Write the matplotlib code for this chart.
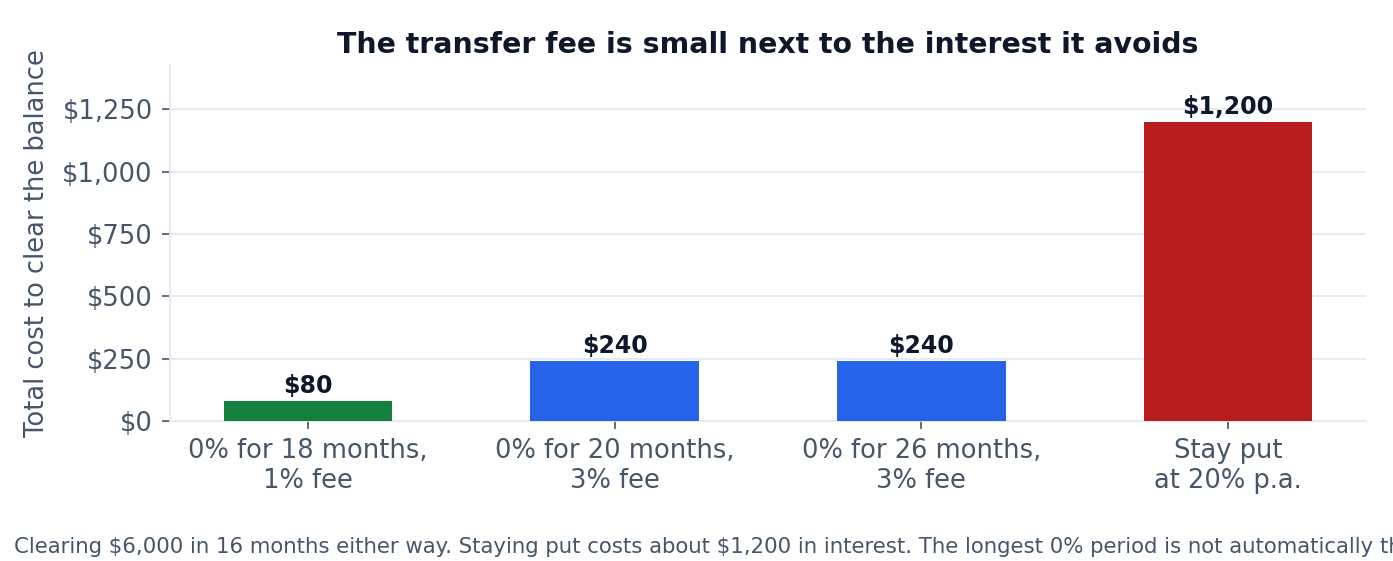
import matplotlib
matplotlib.use("Agg")
import matplotlib.pyplot as plt
from matplotlib.ticker import FuncFormatter

categories = ["0% for 18 months,\n1% fee", "0% for 20 months,\n3% fee",
              "0% for 26 months,\n3% fee", "Stay put\nat 20% p.a."]
costs = [80, 240, 240, 1200]
bar_colors = ["#15803d", "#2563eb", "#2563eb", "#b91c1c"]
yticks = [0, 250, 500, 750, 1000, 1250]

title = "The transfer fee is small next to the interest it avoids"
ylabel = "Total cost to clear the balance"
caption = ("Clearing $6,000 in 16 months either way. Staying put costs about $1,200 in interest. "
           "The longest 0% period is not automatically the cheapest.")

plt.rcParams['font.family'] = ['DejaVu Sans']
fig = plt.figure(figsize=(13.93, 5.61), dpi=100)
ax = fig.add_axes([170/1393, 140/561, (1366-170)/1393, (421-65)/561])

x = list(range(len(categories)))
bars = ax.bar(x, costs, width=0.55, color=bar_colors, zorder=3)
for xi, v in zip(x, costs):
    ax.annotate(f"${v:,.0f}", (xi, v), xytext=(0, 2), textcoords="offset points",
                ha="center", va="bottom", fontsize=17, fontweight="bold", color="#0f172a")

ax.set_xlim(-0.45, 3.45)
ax.set_ylim(0, 1428)
ax.set_yticks(yticks)
ax.yaxis.set_major_formatter(FuncFormatter(lambda v, p: f"${v:,.0f}"))
ax.set_xticks(x)
ax.set_xticklabels(categories)
ax.tick_params(axis="both", labelsize=18.5, colors="#475569", length=6, width=1.2, pad=6.5)
ax.grid(axis="y", color="#e2e8f0", linewidth=1.2, zorder=0)
for s in ["top", "right"]:
    ax.spines[s].set_visible(False)
for s in ["left", "bottom"]:
    ax.spines[s].set_color("#e2e8f0")
    ax.spines[s].set_linewidth(1.2)
ax.set_ylabel(ylabel, fontsize=18.5, color="#475569", labelpad=9)
ax.set_title(title, fontsize=20.4, fontweight="bold", color="#0f172a", pad=9)
fig.text(14/1393, 1 - 547/561, caption, fontsize=15.3, color="#475569",
         ha="left", va="center", parse_math=False)

fig.savefig("out.png", dpi=100)
